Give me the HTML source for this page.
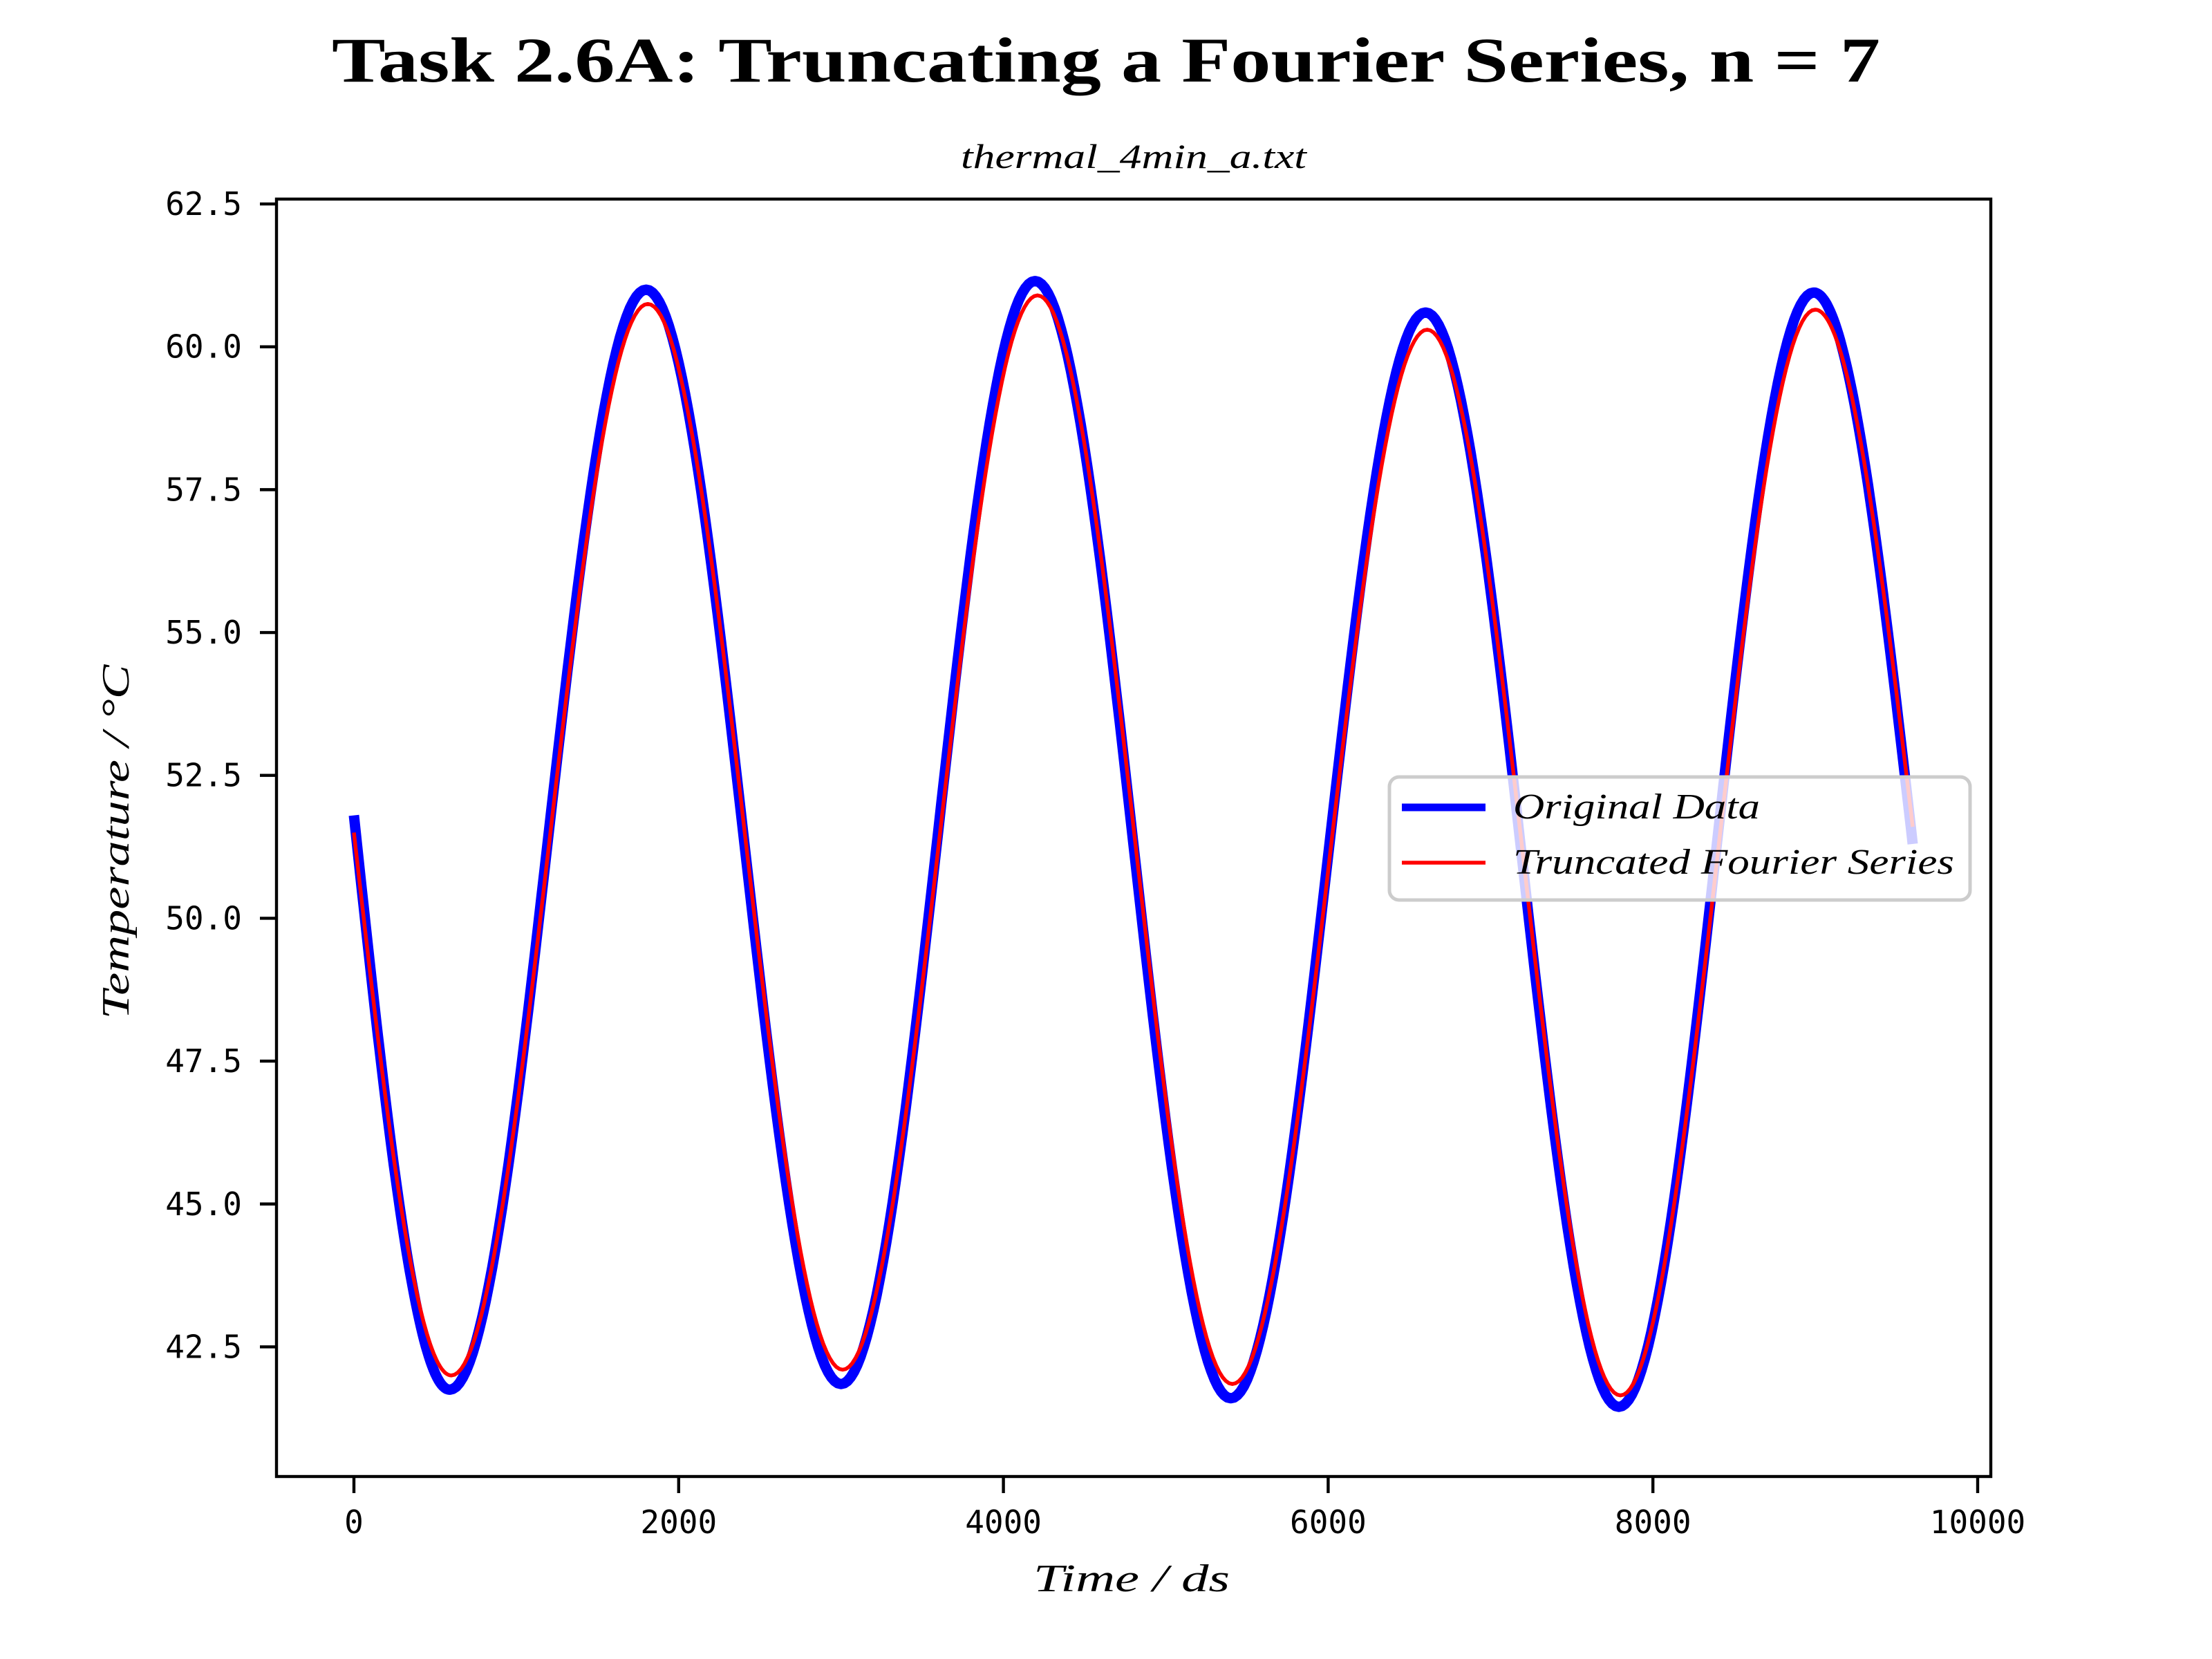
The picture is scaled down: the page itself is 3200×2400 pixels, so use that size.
<!DOCTYPE html>
<html><head><meta charset="utf-8"><style>
html,body{margin:0;padding:0;background:#fff;}
svg{display:block;}
</style></head><body>
<svg id="chart" width="3200" height="2400" viewBox="0 0 3200 2400" xmlns="http://www.w3.org/2000/svg">
<text x="1600" y="118" text-anchor="middle" font-family="Liberation Serif, serif" font-weight="bold" font-size="92" textLength="2240" lengthAdjust="spacingAndGlyphs">Task 2.6A: Truncating a Fourier Series, n = 7</text>
<text x="1640" y="243" text-anchor="middle" font-family="Liberation Serif, serif" font-style="italic" font-size="50" textLength="500" lengthAdjust="spacingAndGlyphs">thermal_4min_a.txt</text>
<g id="plot"></g>
<rect x="400" y="288" width="2480" height="1848" fill="none" stroke="#000" stroke-width="4.4"/>
<g id="xticks"></g>
<g id="yticks"></g>
<text x="1637" y="2302" text-anchor="middle" font-family="Liberation Serif, serif" font-style="italic" font-size="56" textLength="284" lengthAdjust="spacingAndGlyphs">Time / ds</text>
<text transform="translate(186,1218) rotate(-90)" text-anchor="middle" font-family="Liberation Serif, serif" font-style="italic" font-size="56" textLength="513" lengthAdjust="spacingAndGlyphs">Temperature / °C</text>
<g>
<rect x="2010" y="1124" width="840" height="178" rx="14" fill="rgba(255,255,255,0.8)" stroke="#cccccc" stroke-width="5"/>
<line x1="2028" y1="1168" x2="2149" y2="1168" stroke="#0000ff" stroke-width="11"/>
<text x="2189" y="1184" font-family="Liberation Serif, serif" font-style="italic" font-size="52" textLength="357" lengthAdjust="spacingAndGlyphs">Original Data</text>
<line x1="2028" y1="1248" x2="2149" y2="1248" stroke="#ff0000" stroke-width="5.5"/>
<text x="2189" y="1264" font-family="Liberation Serif, serif" font-style="italic" font-size="52" textLength="638" lengthAdjust="spacingAndGlyphs">Truncated Fourier Series</text>
</g>
</svg>
<script>
const xTicks = [0, 2000, 4000, 6000, 8000, 10000];
const yTicks = [42.5, 45.0, 47.5, 50.0, 52.5, 55.0, 57.5, 60.0, 62.5];
// Truncated Fourier series: start, extrema, end
const fourierTimes = [0, 600, 1810, 3010, 4210, 5410, 6610, 7800, 9000, 9600];
const fourierValues = [51.5, 42.0, 60.75, 42.1, 60.9, 41.85, 60.3, 41.65, 60.65, 51.6];
// Original data (noisy band centre)
const dataTimes = [0, 590, 1800, 3000, 4195, 5400, 6600, 7790, 8990, 9600];
const dataValues = [51.8, 41.75, 61.0, 41.85, 61.15, 41.6, 60.6, 41.45, 60.95, 51.3];

const X0 = 512, XS = 0.2349;
const Y0 = 501.7, YS = 82.67;
function xs(v){ return X0 + v*XS; }
function ys(v){ return Y0 - (v-60)*YS; }
const NS = 'http://www.w3.org/2000/svg';

function curvePts(T, V){
  const pts = [];
  const n = T.length;
  for(let i=0;i<n-1;i++){
    const t0=T[i], t1=T[i+1], v0=V[i], v1=V[i+1];
    for(let k=0;k<=60;k++){
      const f=k/60, t=t0+(t1-t0)*f;
      let v;
      if(i===0) v = v0 + (v1-v0)*Math.sin(Math.PI/2*f);
      else if(i===n-2) v = v0 + (v1-v0)*(1-Math.cos(Math.PI/2*f));
      else v = v0 + (v1-v0)*(1-Math.cos(Math.PI*f))/2;
      pts.push(xs(t).toFixed(1)+','+ys(v).toFixed(1));
    }
  }
  return pts.join(' ');
}
const plot = document.getElementById('plot');
const blue = document.createElementNS(NS,'polyline');
blue.setAttribute('points', curvePts(dataTimes, dataValues));
blue.setAttribute('fill','none'); blue.setAttribute('stroke','#0000ff');
blue.setAttribute('stroke-width','15'); blue.setAttribute('stroke-linejoin','round');


plot.appendChild(blue);
const red = document.createElementNS(NS,'polyline');
red.setAttribute('points', curvePts(fourierTimes, fourierValues));
red.setAttribute('fill','none'); red.setAttribute('stroke','#ff0000');
red.setAttribute('stroke-width','5.5'); red.setAttribute('stroke-linejoin','round');


plot.appendChild(red);

const xg = document.getElementById('xticks');
xTicks.forEach(function(t){
  const x = xs(t);
  const l = document.createElementNS(NS,'line');
  l.setAttribute('x1',x); l.setAttribute('x2',x); l.setAttribute('y1',2136); l.setAttribute('y2',2160);
  l.setAttribute('stroke','#000'); l.setAttribute('stroke-width','4.4');
  
  
  xg.appendChild(l);
  const tx = document.createElementNS(NS,'text');
  tx.setAttribute('x',x); tx.setAttribute('y',2218); tx.setAttribute('text-anchor','middle');
  tx.setAttribute('font-family','DejaVu Sans Mono, monospace'); tx.setAttribute('font-size','46');
  tx.textContent = String(t);
  
  
  xg.appendChild(tx);
});
const yg = document.getElementById('yticks');
yTicks.forEach(function(v){
  const y = ys(v);
  const l = document.createElementNS(NS,'line');
  l.setAttribute('x1',376); l.setAttribute('x2',400); l.setAttribute('y1',y); l.setAttribute('y2',y);
  l.setAttribute('stroke','#000'); l.setAttribute('stroke-width','4.4');
  
  
  yg.appendChild(l);
  const tx = document.createElementNS(NS,'text');
  tx.setAttribute('x',350); tx.setAttribute('y',y+16); tx.setAttribute('text-anchor','end');
  tx.setAttribute('font-family','DejaVu Sans Mono, monospace'); tx.setAttribute('font-size','46');
  tx.textContent = v.toFixed(1);
  
  
  yg.appendChild(tx);
});
</script>
</body></html>
